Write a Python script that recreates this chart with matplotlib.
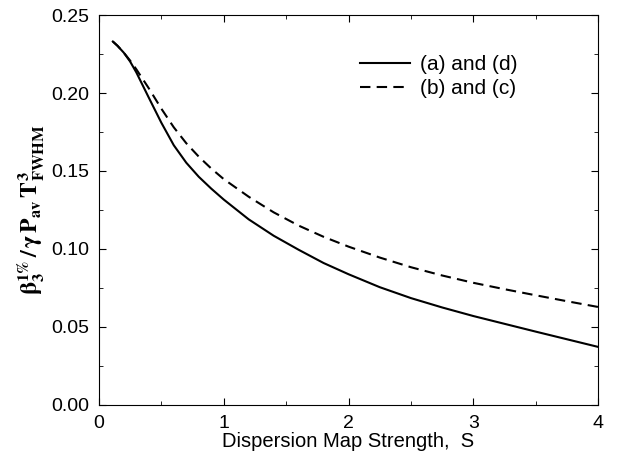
import matplotlib
matplotlib.use("Agg")
import matplotlib.pyplot as plt
from matplotlib.ticker import MultipleLocator, FormatStrFormatter

# curve (a) and (d)
s_ad = [0.112, 0.15, 0.2, 0.25, 0.3, 0.4, 0.5, 0.6, 0.7, 0.8, 0.9, 1.0, 1.2, 1.4, 1.6, 1.8,
        2.0, 2.25, 2.5, 2.75, 3.0, 3.25, 3.5, 3.75, 4.0]
b_ad = [0.233, 0.2302, 0.2258, 0.2202, 0.2132, 0.197, 0.181, 0.1665, 0.1553, 0.1463,
        0.1387, 0.1317, 0.119, 0.1085, 0.0995, 0.091, 0.0838, 0.0755, 0.0685, 0.0625,
        0.057, 0.052, 0.047, 0.0421, 0.0372]

# curve (b) and (c)
s_bc = [0.112, 0.15, 0.2, 0.25, 0.3, 0.4, 0.5, 0.6, 0.7, 0.8, 0.9, 1.0, 1.2, 1.4, 1.6, 1.8,
        2.0, 2.25, 2.5, 2.75, 3.0, 3.25, 3.5, 3.75, 4.0]
b_bc = [0.233, 0.2302, 0.2258, 0.2208, 0.2152, 0.203, 0.190, 0.178, 0.1678, 0.1592,
        0.1516, 0.1448, 0.1335, 0.1235, 0.115, 0.1078, 0.1015, 0.0945, 0.0883, 0.083,
        0.0783, 0.0742, 0.0703, 0.0665, 0.0628]

plt.rcParams["font.family"] = ["Liberation Sans", "DejaVu Sans"]
plt.rcParams["mathtext.fontset"] = "stix"

fig = plt.figure(figsize=(6.18, 4.55), dpi=100)
ax = fig.add_axes([0.160, 0.110, 0.808, 0.857])

ax.plot(s_ad, b_ad, color="black", lw=1.5, label="(a) and (d)")
ax.plot(s_bc, b_bc, color="black", lw=1.5, dashes=(5, 3), label="(b) and (c)")

ax.set_xlim(0, 4)
ax.set_ylim(0, 0.25)
ax.xaxis.set_major_locator(MultipleLocator(1))
ax.xaxis.set_minor_locator(MultipleLocator(0.5))
ax.yaxis.set_major_locator(MultipleLocator(0.05))
ax.yaxis.set_minor_locator(MultipleLocator(0.025))
ax.yaxis.set_major_formatter(FormatStrFormatter("%.2f"))
ax.tick_params(which="both", direction="in", top=True, right=True, labelsize=14)
ax.tick_params(which="major", length=5, pad=7)
ax.tick_params(which="minor", length=3)

ax.set_xlabel("Dispersion Map Strength,  S", fontsize=14.5, labelpad=0)
ax.set_ylabel(r"$\mathbf{\beta_3^{1\%}\,/\,\gamma\,P_{av}\,T^3_{FWHM}}$", fontsize=17, labelpad=3)

ax.legend(loc="upper left", bbox_to_anchor=(0.485, 0.945), frameon=False, fontsize=15,
          handlelength=2.4, handletextpad=0.5, labelspacing=0.25)

fig.savefig("out.png", dpi=100)
